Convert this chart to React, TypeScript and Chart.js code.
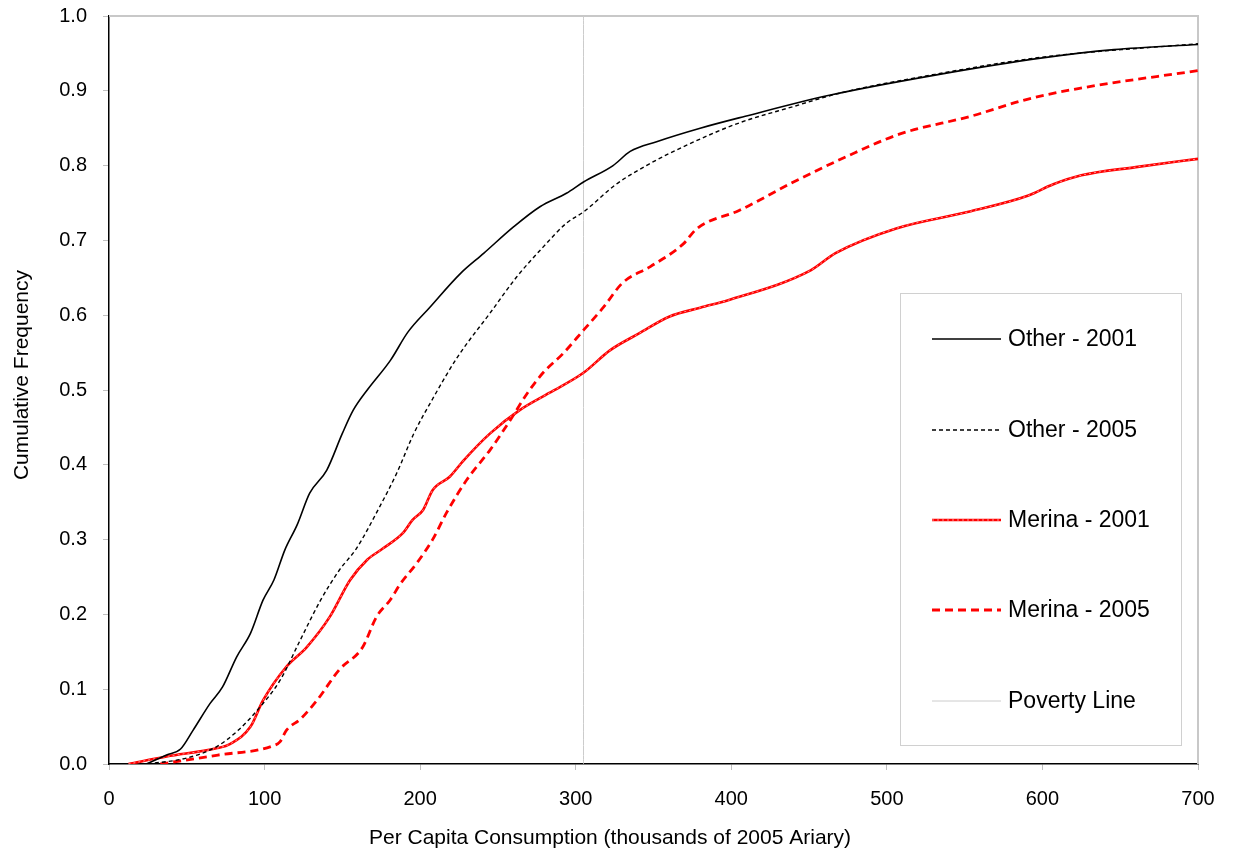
import React, { useEffect, useRef } from "react";
import { Chart, registerables } from "chart.js";

Chart.register(...registerables);

// ---- Data ----
const other2001X = [24, 37, 46, 54, 65, 73, 82, 91, 99, 106, 113, 121, 129, 140, 150, 157, 166, 181, 192, 206, 226, 241, 260, 277, 294, 305, 324, 335, 352, 380, 409, 463, 531, 600, 646, 700];
const other2001Y = [0, 0.012, 0.02, 0.045, 0.081, 0.103, 0.143, 0.175, 0.219, 0.246, 0.286, 0.32, 0.362, 0.393, 0.442, 0.473, 0.5, 0.54, 0.577, 0.61, 0.656, 0.683, 0.718, 0.745, 0.763, 0.778, 0.8, 0.819, 0.832, 0.85, 0.866, 0.894, 0.921, 0.944, 0.955, 0.962];

const other2005X = [25, 50, 69, 83, 97, 110, 123, 136, 148, 159, 174, 185, 196, 208, 224, 245, 262, 279, 294, 305, 326, 348, 371, 405, 440, 470, 531, 600, 700];
const other2005Y = [0, 0.008, 0.023, 0.045, 0.076, 0.112, 0.166, 0.219, 0.259, 0.288, 0.344, 0.389, 0.442, 0.488, 0.544, 0.603, 0.651, 0.691, 0.723, 0.738, 0.775, 0.803, 0.827, 0.857, 0.879, 0.897, 0.922, 0.945, 0.963];

const merina2001X = [12.5, 37, 69, 78, 91, 99, 114, 127, 142, 155, 166, 176, 189, 195, 202, 208, 219, 228, 245, 264, 283, 305, 322, 341, 360, 380, 398, 451, 467, 506, 554, 591, 607, 625, 660, 700];
const merina2001Y = [0, 0.01, 0.021, 0.027, 0.05, 0.085, 0.13, 0.156, 0.197, 0.246, 0.273, 0.288, 0.309, 0.326, 0.34, 0.366, 0.384, 0.406, 0.442, 0.473, 0.496, 0.523, 0.553, 0.576, 0.598, 0.61, 0.62, 0.66, 0.683, 0.716, 0.739, 0.76, 0.775, 0.787, 0.798, 0.809];

const merina2005X = [33, 70, 105, 110, 114, 123, 134, 148, 163, 172, 181, 187, 198, 208, 217, 230, 245, 258, 269, 279, 292, 305, 318, 330, 348, 369, 378, 405, 440, 474, 508, 554, 589, 623, 700];
const merina2005Y = [0, 0.012, 0.024, 0.03, 0.045, 0.06, 0.086, 0.126, 0.156, 0.197, 0.22, 0.24, 0.269, 0.3, 0.336, 0.38, 0.42, 0.46, 0.496, 0.523, 0.549, 0.58, 0.611, 0.643, 0.665, 0.695, 0.716, 0.74, 0.778, 0.812, 0.842, 0.866, 0.888, 0.903, 0.927];

const povertyLineX = [305, 305];
const povertyLineY = [0, 1];

const seriesLabels = ["Other - 2001", "Other - 2005", "Merina - 2001", "Merina - 2005", "Poverty Line"];
const xTitle = "Per Capita Consumption (thousands of 2005 Ariary)";
const yTitle = "Cumulative Frequency";

const FONT = "'Liberation Sans', Arial, Helvetica, sans-serif";
const OVERLAY_INDEX = 2; // Merina 2001 drawn with a light dotted overlay

const toPoints = (xs: number[], ys: number[]) => xs.map((x, i) => ({ x, y: ys[i] }));

const framePlugin = {
  id: "frame",
  beforeDatasetsDraw(chart: any) {
    const { ctx, chartArea } = chart;
    ctx.save();
    ctx.strokeStyle = "#c8c8c8";
    ctx.lineWidth = 2;
    ctx.beginPath();
    ctx.moveTo(chartArea.left, chartArea.top);
    ctx.lineTo(chartArea.right, chartArea.top);
    ctx.lineTo(chartArea.right, chartArea.bottom);
    ctx.stroke();
    ctx.restore();
  },
  afterDatasetDraw(chart: any, args: any) {
    if (args.index !== OVERLAY_INDEX) return;
    const line = args.meta.dataset;
    if (!line || typeof line.path !== "function") return;
    const { ctx } = chart;
    ctx.save();
    ctx.strokeStyle = "rgba(255,190,190,0.75)";
    ctx.lineWidth = 1;
    ctx.setLineDash([2, 3]);
    ctx.beginPath();
    line.path(ctx);
    ctx.stroke();
    ctx.restore();
  },
};

const titlesPlugin = {
  id: "axisTitles",
  afterDraw(chart: any) {
    const { ctx } = chart;
    ctx.save();
    ctx.fillStyle = "#000";
    ctx.font = `21px ${FONT}`;
    ctx.textAlign = "center";
    ctx.textBaseline = "middle";
    ctx.fillText(xTitle, 610, 838);
    ctx.translate(22, 375);
    ctx.rotate(-Math.PI / 2);
    ctx.fillText(yTitle, 0, 0);
    ctx.restore();
  },
};

const legendPlugin = {
  id: "boxLegend",
  afterDraw(chart: any) {
    const { ctx } = chart;
    const bx = 900, by = 293, bw = 281, bh = 452;
    ctx.save();
    ctx.fillStyle = "#ffffff";
    ctx.fillRect(bx, by, bw, bh);
    ctx.strokeStyle = "#d0d0d0";
    ctx.lineWidth = 1;
    ctx.strokeRect(bx + 0.5, by + 0.5, bw, bh);
    const rows = [339, 430, 520, 610, 701];
    chart.data.datasets.forEach((ds: any, i: number) => {
      const y = rows[i];
      ctx.strokeStyle = ds.borderColor;
      ctx.lineWidth = ds.borderWidth;
      ctx.setLineDash(ds.borderDash || []);
      ctx.beginPath();
      ctx.moveTo(932, y);
      ctx.lineTo(1001, y);
      ctx.stroke();
      if (i === OVERLAY_INDEX) {
        ctx.strokeStyle = "rgba(255,190,190,0.75)";
        ctx.lineWidth = 1;
        ctx.setLineDash([2, 3]);
        ctx.beginPath();
        ctx.moveTo(932, y);
        ctx.lineTo(1001, y);
        ctx.stroke();
      }
      ctx.setLineDash([]);
      ctx.fillStyle = "#000";
      ctx.font = `23px ${FONT}`;
      ctx.textBaseline = "middle";
      ctx.textAlign = "left";
      ctx.fillText(ds.label, 1008, y + 1);
    });
    ctx.restore();
  },
};

export default function App() {
  const ref = useRef<HTMLCanvasElement>(null);
  useEffect(() => {
    if (!ref.current) return;
    const common = { pointRadius: 0, fill: false, cubicInterpolationMode: "monotone" as const };
    const chart = new Chart(ref.current, {
      type: "line",
      data: {
        datasets: [
          { ...common, label: seriesLabels[0], data: toPoints(other2001X, other2001Y), borderColor: "#000000", borderWidth: 1.6 },
          { ...common, label: seriesLabels[1], data: toPoints(other2005X, other2005Y), borderColor: "#000000", borderWidth: 1.4, borderDash: [4, 3] },
          { ...common, label: seriesLabels[2], data: toPoints(merina2001X, merina2001Y), borderColor: "#ff0000", borderWidth: 2.6 },
          { ...common, label: seriesLabels[3], data: toPoints(merina2005X, merina2005Y), borderColor: "#ff0000", borderWidth: 2.8, borderDash: [8, 5] },
          { ...common, label: seriesLabels[4], data: toPoints(povertyLineX, povertyLineY), borderColor: "#cccccc", borderWidth: 1 },
        ],
      },
      options: {
        animation: false,
        responsive: false,
        layout: { padding: { left: 0, top: 16, right: 35, bottom: 0 } },
        plugins: { legend: { display: false }, tooltip: { enabled: false } },
        scales: {
          x: {
            type: "linear",
            min: 0,
            max: 700,
            ticks: { stepSize: 100, color: "#000", font: { family: FONT, size: 20 }, padding: 17, maxRotation: 0 },
            grid: { drawOnChartArea: false, drawTicks: true, tickLength: 6, tickColor: "#c0c0c0", color: "#c0c0c0" },
            border: { display: true, color: "#000", width: 1.5 },
            title: { display: false, text: xTitle },
            afterFit: (s: any) => { s.height = 91; s.paddingLeft = 0; s.paddingRight = 0; },
          },
          y: {
            type: "linear",
            min: 0,
            max: 1,
            ticks: { stepSize: 0.1, color: "#000", font: { family: FONT, size: 20 }, padding: 16, callback: (v: any) => Number(v).toFixed(1) },
            grid: { drawOnChartArea: false, drawTicks: true, tickLength: 6, tickColor: "#c0c0c0", color: "#c0c0c0" },
            border: { display: true, color: "#000", width: 1.5 },
            title: { display: false, text: yTitle },
            afterFit: (s: any) => { s.width = 109; s.paddingTop = 0; s.paddingBottom = 0; },
          },
        },
      },
      plugins: [framePlugin, titlesPlugin, legendPlugin],
    });
    return () => chart.destroy();
  }, []);
  return (
    <div style={{ position: "absolute", left: 0, top: 0, width: 1233, height: 855, background: "#fff" }}>
      <canvas ref={ref} width={1233} height={855} style={{ display: "block" }} />
    </div>
  );
}
